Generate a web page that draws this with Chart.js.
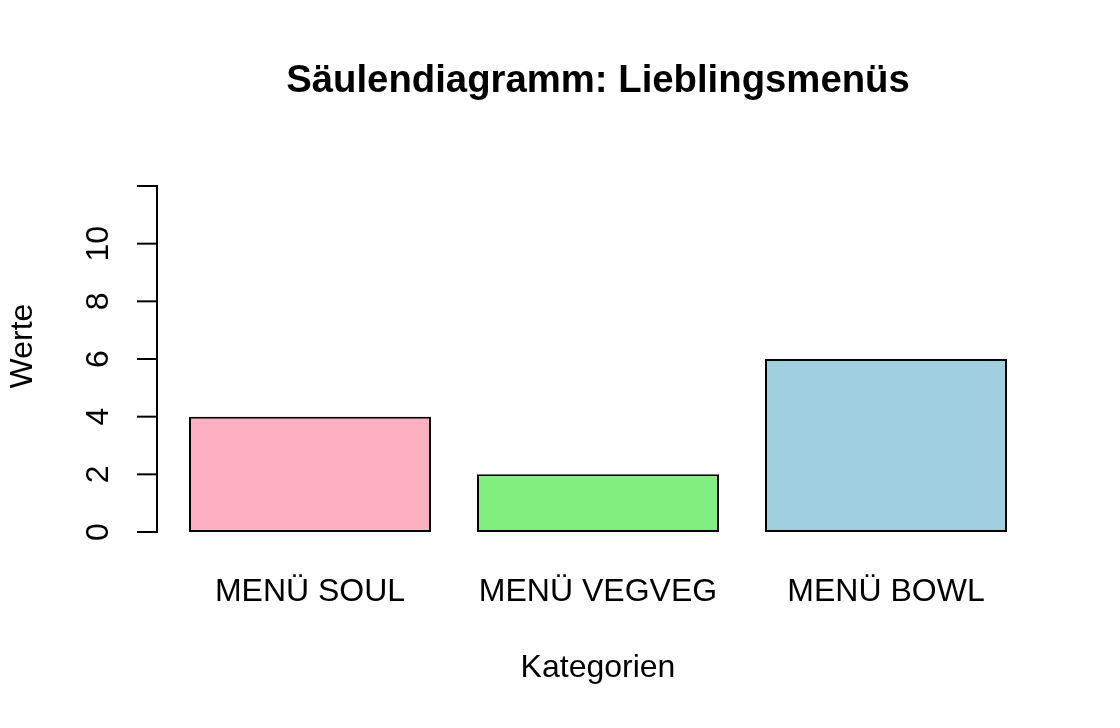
<!DOCTYPE html>
<html><head><meta charset="utf-8">
<script src="https://cdn.jsdelivr.net/npm/chart.js@4/dist/chart.umd.min.js"></script>
<style>html,body{margin:0;padding:0;background:#fff;}#wrap{width:1120px;height:728px;}</style>
</head><body><div id="wrap"><canvas id="c" width="1120" height="728"></canvas></div>
<script>
const categories = ["MENÜ SOUL", "MENÜ VEGVEG", "MENÜ BOWL"];
const values = [4, 2, 6];
const barColors = ["#FDB0C1", "#83EE80", "#A0CFE0"];
const yTickValues = [0, 2, 4, 6, 8, 10, 12];
const yTickLabels = ["0", "2", "4", "6", "8", "10", ""];
const titleText = "Säulendiagramm: Lieblingsmenüs";
const xTitle = "Kategorien";
const yTitle = "Werte";

const FONT = "'Liberation Sans', Arial, Helvetica, sans-serif";

const rAxes = {
  id: 'rAxes',
  afterDraw(chart) {
    const ctx = chart.ctx, xs = chart.scales.x, ys = chart.scales.y;
    const axX = chart.chartArea.left - 9;
    ctx.save();
    ctx.strokeStyle = '#000'; ctx.lineWidth = 2; ctx.lineCap = 'butt';
    ctx.beginPath();
    ctx.moveTo(axX, ys.getPixelForValue(yTickValues[0]));
    ctx.lineTo(axX, ys.getPixelForValue(yTickValues[yTickValues.length - 1]));
    ctx.stroke();
    ctx.fillStyle = '#000';
    ctx.font = "32px " + FONT;
    ctx.textAlign = 'center'; ctx.textBaseline = 'middle';
    yTickValues.forEach((v, i) => {
      const py = ys.getPixelForValue(v);
      ctx.beginPath(); ctx.moveTo(axX - 20, py); ctx.lineTo(axX + 1, py); ctx.stroke();
      if (yTickLabels[i]) {
        ctx.save(); ctx.translate(99, py); ctx.rotate(-Math.PI / 2);
        ctx.fillText(yTickLabels[i], 0, 0); ctx.restore();
      }
    });
    categories.forEach((c, i) => {
      ctx.fillText(c, xs.getPixelForValue(i), 592);
    });
    ctx.fillText(xTitle, 598, 668);
    ctx.save(); ctx.translate(23, 346); ctx.rotate(-Math.PI / 2);
    ctx.fillText(yTitle, 0, 0); ctx.restore();
    ctx.font = "bold 38.3px " + FONT;
    ctx.fillText(titleText, 598, 81);
    ctx.restore();
  }
};

new Chart(document.getElementById('c'), {
  type: 'bar',
  data: {
    labels: categories,
    datasets: [{
      data: values,
      backgroundColor: barColors,
      borderColor: '#000',
      borderWidth: 2,
      borderSkipped: false,
      categoryPercentage: 1,
      barPercentage: 242 / 288
    }]
  },
  options: {
    responsive: false,
    animation: false,
    devicePixelRatio: 1,
    layout: { padding: { left: 166, right: 90, top: 186, bottom: 196 } },
    plugins: { legend: { display: false }, tooltip: { enabled: false }, title: { display: false } },
    scales: {
      x: { type: 'category', display: false, offset: true },
      y: { display: false, min: 0, max: 12, ticks: { stepSize: 2 } }
    }
  },
  plugins: [rAxes]
});
</script>
</body></html>
